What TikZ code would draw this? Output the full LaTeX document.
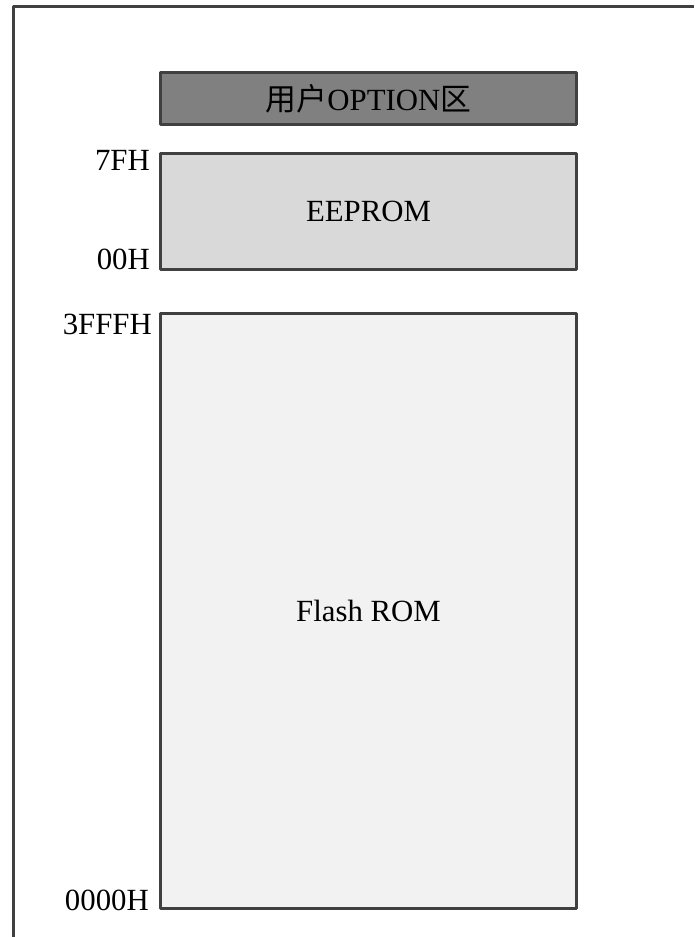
\documentclass[tikz,border=0pt]{standalone}
\usepackage{fontspec}
\setmainfont{Liberation Serif}
\newfontfamily\cjk{Noto Sans CJK SC}
\usetikzlibrary{positioning}
\definecolor{edgegray}{HTML}{404040}
\definecolor{optgray}{HTML}{808080}
\definecolor{eegray}{HTML}{D9D9D9}
\definecolor{flashgray}{HTML}{F2F2F2}
\begin{document}
\begin{tikzpicture}[x=1pt, y=-1pt, line join=round, line cap=round,
    membox/.style={draw=edgegray, line width=3pt, inner sep=0pt, minimum width=416pt,
      font=\fontsize{30.8}{36}\selectfont},
    addr/.style={inner sep=0pt, font=\fontsize{30.8}{36}\selectfont}]
      \useasboundingbox (0,0) rectangle (694,937);
      % outer frame (only top and left edges show)
      \draw[edgegray, line width=3pt, line cap=butt] (13.5,937) -- (13.5,6.7) -- (694,6.7);
      \node[membox, fill=optgray, minimum height=52pt] (option) at (368.5,98.5) {{\cjk 用户}OPTION{\cjk 区}};
      \node[membox, fill=eegray, minimum height=116pt] (eeprom) at (368.5,211.5) {EEPROM};
      \node[membox, fill=flashgray, minimum height=595pt] (flash) at (368.5,611) {Flash ROM};
      \node[addr, anchor=north east] (ee top) at ([xshift=-9pt, yshift=1.5pt]eeprom.north west) {7FH};
      \node[addr, anchor=base east] (ee bot) at ([xshift=-9pt, yshift=1.5pt]eeprom.south west) {00H};
      \node[addr, anchor=north east] (fl top) at ([xshift=-7pt, yshift=-2pt]flash.north west) {3FFFH};
      \node[addr, anchor=base east] (fl bot) at ([xshift=-10pt]flash.south west) {0000H};
    \end{tikzpicture}
\end{document}
